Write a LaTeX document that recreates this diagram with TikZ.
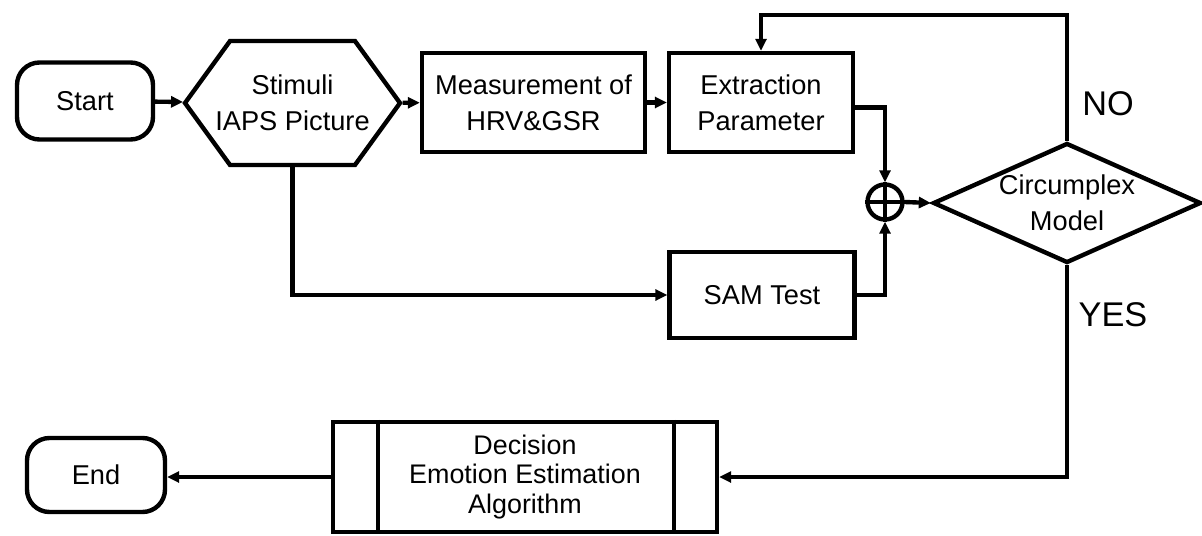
\documentclass[tikz,border=0pt]{standalone}
\usepackage{fontspec}
\setmainfont{Liberation Sans}
\usetikzlibrary{shapes,arrows.meta}
\newcommand{\boxfont}{\fontsize{15.5}{20.5}\selectfont}
\newcommand{\algfont}{\fontsize{15.3}{16.8}\selectfont}
\newcommand{\answerfont}{\fontsize{19.5}{23}\selectfont}

\begin{document}
\begin{tikzpicture}
\tikzstyle{every path}=[line width=2.5pt]
\tikzstyle{flowline}=[-{Triangle[length=0.24cm,width=0.22cm]}]
\tikzstyle{terminal}=[draw,rounded corners=0.45cm,align=center,font=\boxfont]
\tikzstyle{block}=[draw,align=center,font=\boxfont,minimum height=1.98cm]
\tikzstyle{stimulus}=[draw,signal,signal to=east and west,signal pointer angle=108,
 minimum width=4.3cm,minimum height=2.48cm,inner sep=0pt]
\tikzstyle{decision}=[draw,diamond,aspect=2.24,align=center,font=\boxfont,
 minimum width=5.36cm,minimum height=2.4cm,inner sep=0pt]
\tikzstyle{junction}=[draw,circle,minimum size=0.7cm,inner sep=0pt]
\tikzstyle{answer}=[font=\answerfont]
\useasboundingbox (0,0) rectangle (24.04,10.70);

% top row
\node [terminal,minimum width=2.72cm,minimum height=1.54cm] (start) at (1.70,8.68) {Start};
\node [stimulus,label={[font=\boxfont,align=center]center:Stimuli\\IAPS Picture}]
 (stim) at (5.85,8.64) {};
\node [block,minimum width=4.46cm] (meas) at (10.67,8.65) {Measurement of\\HRV\&GSR};
\node [block,minimum width=3.68cm] (extr) at (15.22,8.65) {Extraction\\Parameter};

% middle
\node [block,minimum width=3.70cm,minimum height=1.72cm] (sam) at (15.24,4.80) {SAM Test};
\node [junction] (sum) at (17.70,6.66) {};
\draw (sum.north) -- (sum.south) (sum.west) -- (sum.east);
\node [decision] (circ) at (21.34,6.64) {Circumplex\\Model};
\node [answer] (no) at (22.16,8.62) {NO};
\node [answer] (yes) at (22.26,4.40) {YES};

% bottom row
\node [block,minimum width=7.68cm,minimum height=2.2cm,font=\algfont] (dec) at (10.50,1.16)
 {Decision\\Emotion Estimation\\Algorithm};
\draw ([xshift=0.94cm]dec.north west) -- ([xshift=0.94cm]dec.south west);
\draw ([xshift=-0.90cm]dec.north east) -- ([xshift=-0.90cm]dec.south east);
\node [terminal,minimum width=2.76cm,minimum height=1.48cm] (end) at (1.92,1.20) {End};

% connections
\coordinate (loop) at (21.34,10.40);
\draw [flowline] (start) -- (stim);
\draw [flowline] (stim) -- (meas);
\draw [flowline] (meas) -- (extr);
\draw [flowline] ([yshift=-0.1cm]extr.east) -| (sum.north);
\draw [flowline] (stim.south) |- (sam.west);
\draw [flowline] (sam.east) -| (sum.south);
\draw [flowline] (sum.east) -- (circ.west);
\draw [flowline] (circ.north) -- (loop) -| (extr.north);
\draw [flowline] (circ.south) |- (dec.east);
\draw [flowline] (dec.west) -- (dec.west -| end.east);
\end{tikzpicture}
\end{document}
